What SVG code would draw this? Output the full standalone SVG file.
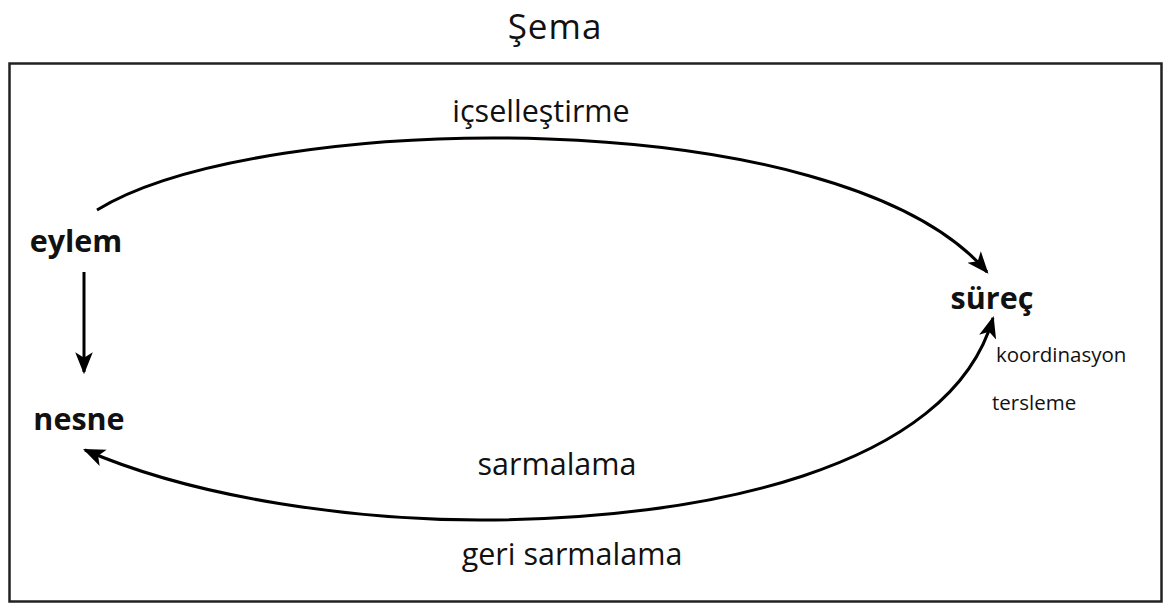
<svg xmlns="http://www.w3.org/2000/svg" width="1166" height="606" viewBox="0 0 1166 606">
<style>
  text { font-family: "Open Sans", "Noto Sans", "Liberation Sans", sans-serif; fill: #111; }
  .lbl { font-size: 30.5px; }
  .node { font-size: 30.5px; font-weight: bold; }
  .small { font-size: 20.5px; }
  .conn { fill: none; stroke: #000; stroke-width: 3; }
</style>
<defs>
  <marker id="arr" viewBox="0 0 20 20" refX="18" refY="10" markerWidth="22" markerHeight="22" markerUnits="userSpaceOnUse" orient="auto-start-reverse">
    <path d="M0,2 L20,10 L0,18 L5,10 Z" fill="#000"/>
  </marker>
</defs>
<rect x="0" y="0" width="1166" height="606" fill="#fff"/>
<rect x="9.5" y="63.5" width="1152" height="538" fill="none" stroke="#222" stroke-width="2.5"/>
<text x="555" y="39" text-anchor="middle" style="font-size:35px" letter-spacing="1">Şema</text>
<g id="connectors">
  <path class="conn" d="M97,210 C260,110 840,100 987,272" marker-end="url(#arr)"/>
  <path class="conn" d="M85,450 C200,500 360,520 480,520 C700,520 950,470 993,318" marker-start="url(#arr)" marker-end="url(#arr)"/>
  <path class="conn" d="M84,272 L84,372" stroke-width="2.5" marker-end="url(#arr)"/>
  <text class="lbl" x="541" y="122" text-anchor="middle">içselleştirme</text>
  <text class="lbl" x="557" y="475" text-anchor="middle">sarmalama</text>
  <text class="lbl" x="572" y="565" text-anchor="middle">geri sarmalama</text>
  <text class="small" x="996" y="362">koordinasyon</text>
  <text class="small" x="992" y="410">tersleme</text>
</g>
<g id="eylem"><text class="node" x="76" y="252" text-anchor="middle">eylem</text></g>
<g id="nesne"><text class="node" x="79" y="430" text-anchor="middle">nesne</text></g>
<g id="surec"><text class="node" x="992" y="309" text-anchor="middle">süreç</text></g>
</svg>
